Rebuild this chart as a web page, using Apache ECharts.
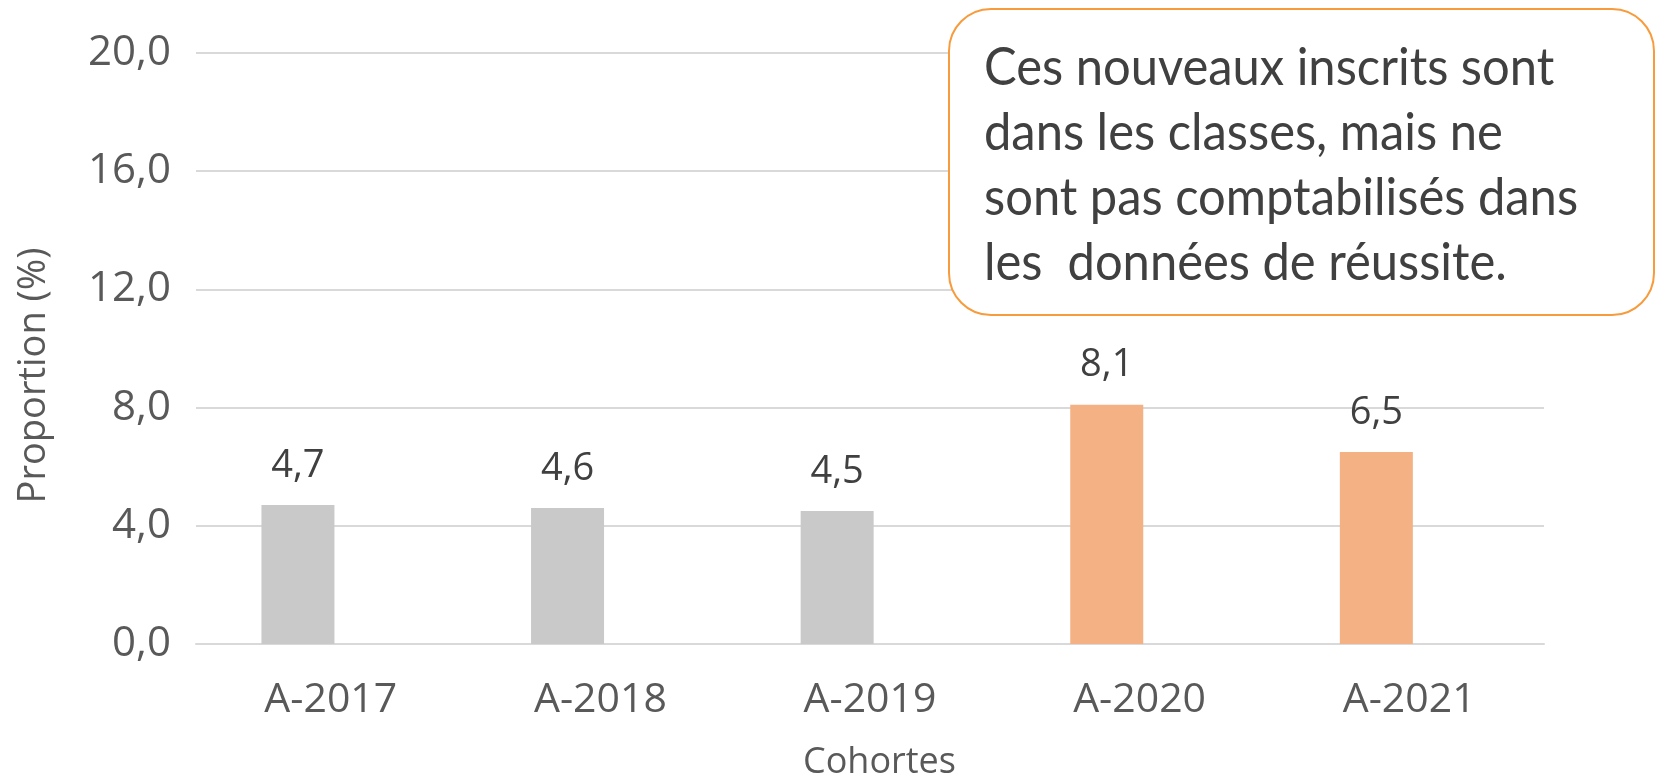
<!DOCTYPE html>
<html>
<head>
<meta charset="utf-8">
<script src="https://cdn.jsdelivr.net/npm/echarts@6/dist/echarts.min.js"></script>
<style>
  html, body { margin: 0; padding: 0; background: #fff; }
  #chart { width: 1656px; height: 778px; }
</style>
</head>
<body>
<div id="chart"></div>
<script>
// data
const cohortes = ["A-2017", "A-2018", "A-2019", "A-2020", "A-2021"];
const proportions = [4.7, 4.6, 4.5, 8.1, 6.5];
// second (empty) series of the original Excel chart, keeps bars left of centre
const emptySeries = [null, null, null, null, null];
const yTicks = [0, 4, 8, 12, 16, 20];

const grey = "#C9C9C9";
const orange = "#F4B183";
const textColor = "#595959";
const font = "'Open Sans', sans-serif";

const fmt = v => Number(v).toFixed(1).replace(".", ",");

const chart = echarts.init(document.getElementById("chart"));

const options = {
  animation: false,
  grid: { left: 196, right: 112, top: 53, bottom: 134, outerBoundsMode: "none" },
  xAxis: {
    type: "category",
    data: cohortes,
    name: "Cohortes",
    nameLocation: "middle",
    nameGap: 101,
    nameTextStyle: {
      color: textColor,
      fontSize: 36,
      fontFamily: font,
      padding: [0, 0, 0, 19],
    },
    axisLine: { show: true, lineStyle: { color: "#D9D9D9", width: 2 } },
    axisTick: { show: false },
    axisLabel: { color: textColor, fontSize: 41, fontFamily: font, margin: 36 },
  },
  yAxis: {
    type: "value",
    min: yTicks[0],
    max: yTicks[yTicks.length - 1],
    interval: 4,
    name: "Proportion (%)",
    nameLocation: "middle",
    nameGap: 143,
    nameTextStyle: {
      color: textColor,
      fontSize: 38,
      fontFamily: font,
      padding: [0, 54, 0, 0],
    },
    axisLine: { show: false },
    axisTick: { show: false },
    splitLine: { lineStyle: { color: "#D9D9D9", width: 2 } },
    axisLabel: {
      color: textColor,
      fontSize: 42,
      fontFamily: font,
      margin: 25,
      formatter: v => fmt(v),
    },
  },
  series: [
    {
      type: "bar",
      data: proportions.map((v, i) => ({
        value: v,
        itemStyle: { color: i < 3 ? grey : orange },
      })),
      barWidth: 73,
      barGap: "-10%",
      label: {
        show: true,
        position: "top",
        distance: 20,
        color: "#404040",
        fontSize: 38,
        fontFamily: font,
        formatter: p => fmt(p.value),
      },
    },
    {
      type: "bar",
      data: emptySeries,
      barWidth: 73,
    },
  ],
  graphic: [
    {
      type: "rect",
      left: 948,
      top: 8,
      shape: { width: 705, height: 306, r: 42 },
      style: { fill: "#fff", stroke: "#F79B3C", lineWidth: 2 },
      z: 10,
    },
    {
      type: "text",
      x: 984,
      y: 36,
      scaleX: 0.94,
      style: {
        text: "Ces nouveaux inscrits sont\ndans les classes, mais ne\nsont pas comptabilisés dans\nles  données de réussite.",
        fill: "#404040",
        font: "52px Lato, sans-serif",
        lineHeight: 65,
      },
      z: 11,
    },
  ],
};

chart.setOption(options);
</script>
</body>
</html>
